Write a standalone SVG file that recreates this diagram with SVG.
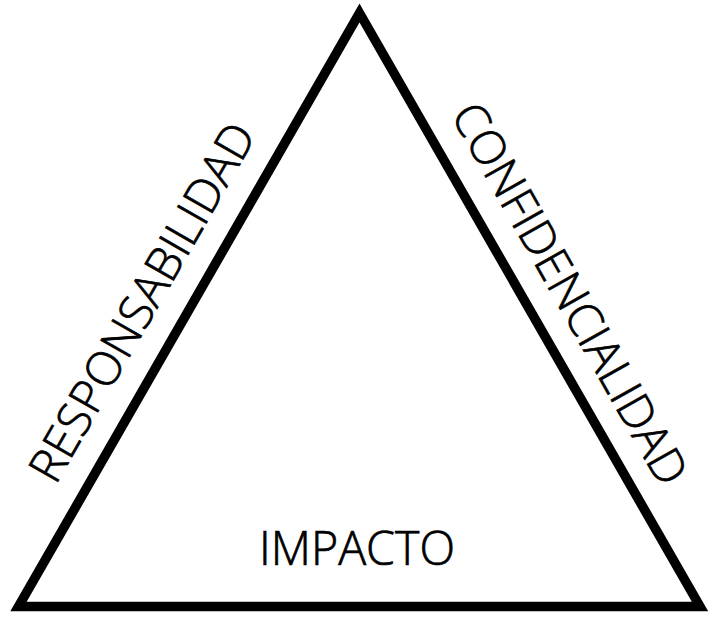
<svg xmlns="http://www.w3.org/2000/svg" width="719" height="623" viewBox="0 0 719 623">
<style>
.lbl{font-family:"Open Sans","Noto Sans","Liberation Sans",sans-serif;font-size:47px;font-weight:300;fill:#000;stroke:#000;stroke-width:0.7;}
.tri{fill:none;stroke:#000;stroke-width:9.5;stroke-linejoin:miter;stroke-miterlimit:10;}
</style>
<rect width="719" height="623" fill="#fff"/>
<g id="triangle">
<polygon class="tri" points="359.5,13 700,606.5 18.5,606.5"/>
</g>
<g id="responsabilidad">
<text class="lbl" transform="translate(55.5,485.9) rotate(-60.1)" textLength="405" lengthAdjust="spacingAndGlyphs">RESPONSABILIDAD</text>
</g>
<g id="confidencialidad">
<text class="lbl" transform="translate(450,114.4) rotate(60.6)" textLength="430" lengthAdjust="spacingAndGlyphs">CONFIDENCIALIDAD</text>
</g>
<g id="impacto">
<text class="lbl" x="357" y="565" text-anchor="middle" textLength="196" lengthAdjust="spacingAndGlyphs">IMPACTO</text>
</g>
</svg>
